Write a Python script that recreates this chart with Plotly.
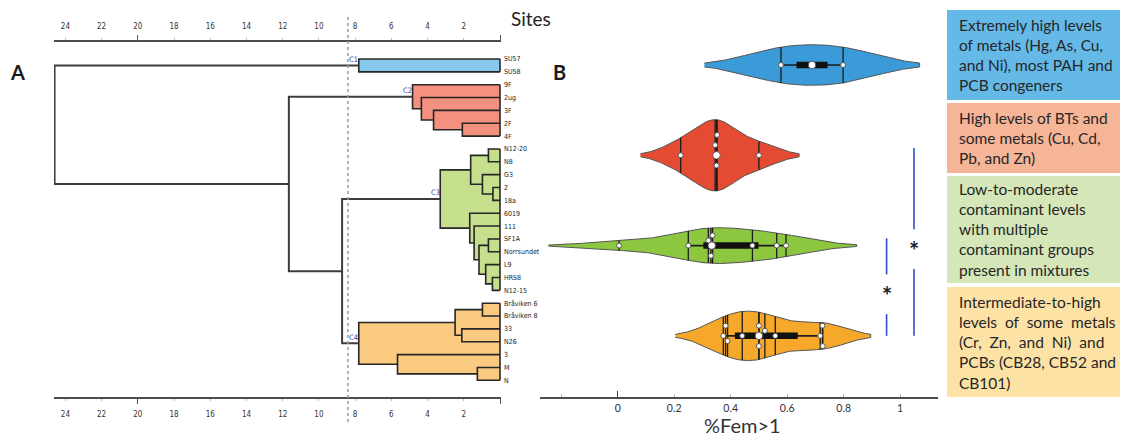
import numpy as np
import plotly.graph_objects as go

# ---------------------------------------------------------------- data
LEAVES = ["SU57", "SU58", "9F", "2ug", "3F", "2F", "4F",
          "N12-20", "N8", "G3", "2", "18a", "6019", "111", "SF1A",
          "Norrsundet", "L9", "HRS8", "N12-15",
          "Bråviken 6", "Bråviken 8", "33", "N26", "3", "M", "N"]

# agglomeration steps: (member a, member b, linkage distance);
# integer members refer to earlier steps in this list
LINKAGE = [
    ("SU57", "SU58", 7.80),          # 0  C1
    ("2F", "4F", 2.08),              # 1
    ("3F", 1, 3.67),                 # 2
    ("2ug", 2, 4.34),                # 3
    ("9F", 3, 4.83),                 # 4  C2
    ("N12-20", "N8", 0.64),          # 5
    ("2", "18a", 0.39),              # 6
    ("G3", 6, 0.97),                 # 7
    (5, 7, 1.62),                    # 8
    ("SF1A", "Norrsundet", 0.64),    # 9
    ("HRS8", "N12-15", 0.42),        # 10
    ("L9", 10, 0.79),                # 11
    (9, 11, 1.16),                   # 12
    ("111", 12, 1.43),               # 13
    ("6019", 13, 1.67),              # 14
    (8, 14, 3.30),                   # 15 C3
    ("Bråviken 6", "Bråviken 8", 0.97),  # 16
    ("33", "N26", 2.11),             # 17
    (16, 17, 2.48),                  # 18
    ("M", "N", 1.25),                # 19
    ("3", 19, 5.66),                 # 20
    (18, 20, 7.80),                  # 21 C4
    (15, 21, 8.72),                  # 22
    (4, 22, 11.66),                  # 23
    (0, 23, 24.60),                  # 24 root
]
CLUSTER_ROOTS = [0, 4, 15, 21]
CLUSTER_NAMES = ["C1", "C2", "C3", "C4"]
CUT_HEIGHT = 8.4
DIST_TICKS = [2, 4, 6, 8, 10, 12, 14, 16, 18, 20, 22, 24]
DIST_TICKTEXT = ["2", "4", "6", "8", "10", "12", "14", "16", "18", "20", "22", "24"]

# %Fem>1 per cluster
FEM_C1 = [0.578, 0.798]
FEM_C2 = [0.223, 0.345, 0.350, 0.352, 0.500]
FEM_C3 = [0.005, 0.250, 0.321, 0.330, 0.336, 0.477, 0.563, 0.596]
FEM_C4 = [0.374, 0.382, 0.389, 0.441, 0.500, 0.500, 0.521, 0.558,
          0.717, 0.725, 0.726]
FEM_TICKS = [-0.2, 0, 0.2, 0.4, 0.6, 0.8, 1.0]
FEM_TICKTEXT = ["", "0", "0.2", "0.4", "0.6", "0.8", "1"]
SIG_PAIRS = [(1, 3), (2, 3)]

GROUP_TEXT = [
    "Extremely high levels<br>of metals (Hg, As, Cu,<br>and Ni), most PAH and<br>PCB congeners",
    "High levels of BTs and<br>some metals (Cu, Cd,<br>Pb, and Zn)",
    "Low-to-moderate<br>contaminant levels<br>with multiple<br>contaminant groups<br>present in mixtures",
    "Intermediate-to-high<br>levels\u00a0 of\u00a0 some\u00a0 metals<br>(Cr,\u00a0 Zn,\u00a0 and\u00a0 Ni)\u00a0 and<br>PCBs (CB28, CB52 and<br>CB101)",
]

# ---------------------------------------------------------------- style
W, H = 1123, 439
DENDRO_FILL = ["#86C8EC", "#F3907F", "#C5DF8C", "#F9CA80"]
VIOLIN_FILL = ["#3A9BD8", "#E44B32", "#8DC63F", "#F5A82A"]
BOX_FILL = ["#64B9E7", "#F6B597", "#D5E6B9", "#FDE2A6"]
BOX_Y = [(10, 100), (103, 173), (176, 283), (287, 397)]
SIG_X = [1.049, 0.952]
VIOLIN_HALF = 0.395
FEM_RANGE = [-0.275, 1.134]
FEM_DOMAIN_PX = (540, 938)
POS_RANGE = [3.677, -0.72]
PLOT_BOTTOM_PX = 397
DOT_PX = 6
SMALL_FONT = "DejaVu Sans Condensed, Liberation Sans Narrow, DejaVu Sans"
TEXT_FONT = "Lato, Open Sans, sans-serif"


def px_x(x):
    return x / W


def px_y(y):
    return 1 - y / H


def label(x_px, y_px, text, size, color, family=TEXT_FONT):
    fig.add_annotation(x=px_x(x_px), y=px_y(y_px), xref="paper", yref="paper", text=text,
                       showarrow=False, xanchor="center", yanchor="middle",
                       font=dict(family=family, size=size, color=color))


fig = go.Figure()

# ---------------------------------------------------------------- dendrogram
leaf_pos = {name: i for i, name in enumerate(LEAVES)}
node_y, node_h = [], []
u_shapes = []
for a, b, h in LINKAGE:
    ya, ha = (leaf_pos[a], 0.0) if isinstance(a, str) else (node_y[a], node_h[a])
    yb, hb = (leaf_pos[b], 0.0) if isinstance(b, str) else (node_y[b], node_h[b])
    node_y.append((ya + yb) / 2)
    node_h.append(h)
    u_shapes.append(([ha, h, h, hb], [ya, ya, yb, yb], (ya, yb)))


def subtree(k):
    out = [k]
    for c in LINKAGE[k][:2]:
        if not isinstance(c, str):
            out += subtree(c)
    return out


def leaves_of(k):
    out = []
    for c in LINKAGE[k][:2]:
        out += [leaf_pos[c]] if isinstance(c, str) else leaves_of(c)
    return out


in_cluster = set()
for ci, root in enumerate(CLUSTER_ROOTS):
    steps = subtree(root)
    in_cluster.update(steps)
    fx, fy = [], []
    for k in steps:
        y0, y1 = sorted(u_shapes[k][2])
        h = node_h[k]
        fx += [h, 0, 0, h, h, None]
        fy += [y0, y0, y1, y1, y0, None]
    fig.add_trace(go.Scatter(x=fx, y=fy, fill="toself", fillcolor=DENDRO_FILL[ci],
                             mode="lines", line=dict(width=0), hoverinfo="skip",
                             xaxis="x", yaxis="y"))
    lx, ly = [], []
    for k in steps:
        xs, ys, _ = u_shapes[k]
        lx += xs + [None]
        ly += ys + [None]
    lv = leaves_of(root)
    lx += [0, 0, None]
    ly += [min(lv), max(lv), None]
    fig.add_trace(go.Scatter(x=lx, y=ly, mode="lines",
                             line=dict(color="#262626", width=1.6),
                             hoverinfo="skip", xaxis="x", yaxis="y"))

tx, ty = [], []
for k in range(len(LINKAGE)):
    if k in in_cluster:
        continue
    xs, ys, _ = u_shapes[k]
    tx += xs + [None]
    ty += ys + [None]
fig.add_trace(go.Scatter(x=tx, y=ty, mode="lines", line=dict(color="#3c3c3c", width=2),
                         hoverinfo="skip", xaxis="x", yaxis="y"))

for ci, root in enumerate(CLUSTER_ROOTS):
    fig.add_annotation(x=node_h[root], y=node_y[root], xref="x", yref="y",
                       text=CLUSTER_NAMES[ci], showarrow=False, xshift=-5, yshift=6,
                       xanchor="center", yanchor="middle",
                       font=dict(family=SMALL_FONT, size=7.5, color="#3040b0"))

fig.add_shape(type="line", xref="x", yref="paper", x0=CUT_HEIGHT, x1=CUT_HEIGHT,
              y0=px_y(422), y1=px_y(14), line=dict(color="#9a9a9a", width=1.5, dash="dot"))

# empty traces so the decorative overlay axes are drawn
for xa, ya in [("x2", "y"), ("x4", "y"), ("x5", "y"), ("x6", "y3")]:
    fig.add_trace(go.Scatter(x=[], y=[], xaxis=xa, yaxis=ya, hoverinfo="skip"))

# ---------------------------------------------------------------- violins
groups = [np.array(FEM_C1), np.array(FEM_C2), np.array(FEM_C3), np.array(FEM_C4)]
x_px_per_unit = (FEM_DOMAIN_PX[1] - FEM_DOMAIN_PX[0]) / (FEM_RANGE[1] - FEM_RANGE[0])
y_px_per_unit = PLOT_BOTTOM_PX / (POS_RANGE[0] - POS_RANGE[1])


def kde(vals, grid, bw):
    u = (np.asarray(grid)[:, None] - vals[None, :]) / bw
    return np.exp(-0.5 * u ** 2).sum(1) / (len(vals) * bw * np.sqrt(2 * np.pi))


def swarm_offsets(vals, anchor):
    """Spread overlapping dots vertically so that none of them collide."""
    placed = [(anchor * x_px_per_unit, 0.0)]
    steps = [0.0]
    for j in range(1, 12):
        steps += [-j * DOT_PX * 0.85, j * DOT_PX * 0.85]
    out = []
    for v in vals:
        xp = v * x_px_per_unit
        for s in steps:
            if all((xp - px) ** 2 + (s - py) ** 2 >= DOT_PX ** 2 for px, py in placed):
                break
        placed.append((xp, s))
        out.append(s / y_px_per_unit)
    return np.array(out)


bws = [g.std(ddof=1) * len(g) ** (-0.2) for g in groups]
grids = [np.linspace(g.min() - 2 * bw, g.max() + 2 * bw, 300) for g, bw in zip(groups, bws)]
dens = [kde(g, gr, bw) for g, gr, bw in zip(groups, grids, bws)]
dmax = max(d.max() for d in dens)

for gi, (g, gr, d, bw) in enumerate(zip(groups, grids, dens, bws)):
    half = d / dmax * VIOLIN_HALF
    xs = list(gr) + list(gr[::-1])
    ys = list(gi - half) + list((gi + half)[::-1])
    fig.add_trace(go.Scatter(x=xs, y=ys, fill="toself", fillcolor=VIOLIN_FILL[gi],
                             mode="lines", line=dict(color="#555555", width=1),
                             hoverinfo="skip", xaxis="x3", yaxis="y3"))
    # one stick per observation
    sd = kde(g, g, bw) / dmax * VIOLIN_HALF
    sx, sy = [], []
    for v, s in zip(g, sd):
        sx += [v, v, None]
        sy += [gi - s, gi + s, None]
    fig.add_trace(go.Scatter(x=sx, y=sy, mode="lines", line=dict(color="#1c1c1c", width=1.3),
                             hoverinfo="skip", xaxis="x3", yaxis="y3"))
    q1, med, q3 = np.percentile(g, [25, 50, 75])
    lim = 1.5 * (q3 - q1)
    w_lo = g[g >= q1 - lim].min()
    w_hi = g[g <= q3 + lim].max()
    fig.add_trace(go.Scatter(x=[w_lo, w_hi], y=[gi, gi], mode="lines",
                             line=dict(color="#1c1c1c", width=1.6),
                             hoverinfo="skip", xaxis="x3", yaxis="y3"))
    fig.add_trace(go.Scatter(x=[q1, q3], y=[gi, gi], mode="lines",
                             line=dict(color="#111111", width=6.5),
                             hoverinfo="skip", xaxis="x3", yaxis="y3"))
    fig.add_trace(go.Scatter(x=[med], y=[gi], mode="markers",
                             marker=dict(color="white", size=7.5, line=dict(color="#444", width=0.8)),
                             hoverinfo="skip", xaxis="x3", yaxis="y3"))
    fig.add_trace(go.Scatter(x=g, y=gi + swarm_offsets(g, med), mode="markers",
                             marker=dict(color="white", size=DOT_PX - 1,
                                         line=dict(color="#555", width=1)),
                             hoverinfo="skip", xaxis="x3", yaxis="y3"))

# significance brackets
for (a, b), bx in zip(SIG_PAIRS, SIG_X):
    mid = (a + b) / 2
    fig.add_trace(go.Scatter(x=[bx, bx, None, bx, bx],
                             y=[a - 0.08, mid - 0.18, None, mid + 0.26, b],
                             mode="lines", line=dict(color="#2b50cc", width=1.6),
                             hoverinfo="skip", xaxis="x3", yaxis="y3"))
    fig.add_annotation(x=bx, y=mid, xref="x3", yref="y3", text="<b>*</b>", showarrow=False,
                       xanchor="center", yanchor="middle", yshift=-5,
                       font=dict(family=TEXT_FONT, size=24, color="#1c1c30"))

# ---------------------------------------------------------------- description boxes
for i, (txt, (y0, y1)) in enumerate(zip(GROUP_TEXT, BOX_Y)):
    fig.add_shape(type="rect", xref="paper", yref="paper", x0=px_x(947), x1=px_x(1120),
                  y0=px_y(y1), y1=px_y(y0), fillcolor=BOX_FILL[i], line=dict(width=0),
                  layer="below")
    fig.add_annotation(x=px_x(957), y=px_y((y0 + y1) / 2), xref="paper", yref="paper",
                       text=txt, showarrow=False, xanchor="left", yanchor="middle",
                       align="left", font=dict(family=TEXT_FONT, size=15.5, color="#262626"))

# ---------------------------------------------------------------- panel labels / titles
label(17, 72, "<b>A</b>", 20, "#1a1a1a")
label(559, 72, "<b>B</b>", 20, "#1a1a1a")
label(531, 19, "Sites", 19, "#222")
label(743, 425, "%Fem>1", 20, "#333")

# ---------------------------------------------------------------- axes
dx = [px_x(54), px_x(501)]
dy = [px_y(PLOT_BOTTOM_PX), px_y(42)]
drange = [24.63, -0.055]
small_tick_font = dict(family=SMALL_FONT, size=8, color="#333")
dist_axis = dict(range=drange, domain=dx, tickvals=DIST_TICKS, ticktext=DIST_TICKTEXT,
                 ticks="outside", ticklen=2, tickcolor="#bbbbbb", showgrid=False,
                 zeroline=False, showline=True, linecolor="#4d4d4d", linewidth=2,
                 tickfont=small_tick_font, ticklabelstandoff=6)
long_ticks = dict(range=drange, domain=dx, tickvals=[0, 20], ticktext=["", ""],
                  ticks="outside", ticklen=6, tickcolor="#555", tickwidth=1.2,
                  showgrid=False, zeroline=False, showline=False, overlaying="x")

fig.update_layout(
    width=W, height=H, margin=dict(l=0, r=0, t=0, b=0),
    paper_bgcolor="white", plot_bgcolor="white", showlegend=False,
    xaxis=dict(**dist_axis, anchor="y", side="bottom"),
    xaxis2=dict(**dist_axis, anchor="y", side="top", overlaying="x"),
    xaxis4=dict(**long_ticks, anchor="y", side="bottom"),
    xaxis5=dict(**long_ticks, anchor="y", side="top"),
    yaxis=dict(range=[26.30, -1.323], domain=dy, anchor="x", side="right",
               tickvals=list(range(len(LEAVES))), ticktext=LEAVES, ticks="",
               showgrid=False, zeroline=False, showline=False,
               tickfont=dict(family=SMALL_FONT, size=7, color="#222"), ticklabelstandoff=2),
    xaxis3=dict(range=FEM_RANGE, domain=[px_x(FEM_DOMAIN_PX[0]), px_x(FEM_DOMAIN_PX[1])],
                anchor="y3", tickvals=FEM_TICKS, ticktext=FEM_TICKTEXT, ticks="inside",
                ticklen=3, tickcolor="#bbbbbb", showgrid=False, zeroline=False,
                showline=True, linecolor="#4d4d4d", linewidth=2, ticklabelstandoff=0,
                tickfont=dict(family=TEXT_FONT, size=10.5, color="#333")),
    xaxis6=dict(range=FEM_RANGE, domain=[px_x(FEM_DOMAIN_PX[0]), px_x(FEM_DOMAIN_PX[1])],
                anchor="y3", overlaying="x3", tickvals=[0], ticktext=[""], ticks="inside",
                ticklen=6, tickcolor="#444", tickwidth=1.2, showgrid=False,
                zeroline=False, showline=False),
    yaxis3=dict(range=POS_RANGE, domain=[px_y(PLOT_BOTTOM_PX), 1], anchor="x3",
                showticklabels=False, ticks="", showgrid=False, zeroline=False,
                showline=False),
)

fig.write_html("out.html")
